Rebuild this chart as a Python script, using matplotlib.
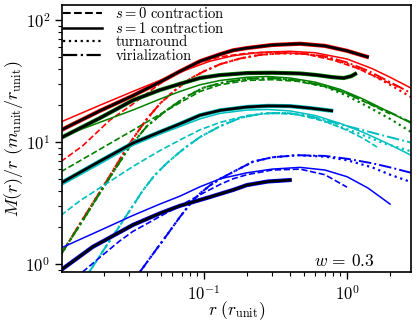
import numpy as np
import matplotlib
matplotlib.use('Agg')
import matplotlib.pyplot as plt
from matplotlib.lines import Line2D
import matplotlib.patheffects as pe

plt.rcParams['font.family'] = 'serif'
plt.rcParams['font.serif'] = ['cmr10']
plt.rcParams['mathtext.fontset'] = 'cm'
plt.rcParams['axes.formatter.use_mathtext'] = True

# ---------------- data (r in r_unit, M/r in m_unit/r_unit) ----------------
# red
red_black_r = [0.01, 0.0187, 0.0319, 0.0492, 0.068, 0.094, 0.13, 0.16, 0.2, 0.3, 0.47, 0.7, 1.0, 1.42]
red_black_M = [12.5, 18, 24, 31, 38, 46, 52.5, 56.5, 59, 62.5, 64, 61.5, 56, 49.5]
red_s1_r = [0.01, 0.0187, 0.0319, 0.0492, 0.075, 0.11, 0.16, 0.25, 0.4, 0.6, 1.0, 1.5, 2.0, 2.8]
red_s1_M = [14.6, 20, 26, 32, 39, 46, 51, 54.5, 55.5, 54, 48, 40, 34, 27.7]
red_s0_r = [0.01, 0.0142, 0.022, 0.0319, 0.0492, 0.068, 0.094, 0.13, 0.2, 0.3, 0.5, 0.8, 1.2, 1.8, 2.35]
red_s0_M = [6.9, 9.3, 15.1, 20.5, 30, 38, 45, 50, 53.5, 54.5, 53, 47, 40, 32, 28]
red_ta_r = [0.01, 0.015, 0.02, 0.03, 0.04, 0.05, 0.065, 0.08, 0.1, 0.13, 0.18, 0.25, 0.35, 0.5, 0.7, 1.0, 1.4, 2.0, 2.8]
red_ta_M = [1.19, 2.57, 4.4, 9.6, 15.5, 21, 27.5, 33, 38, 43.5, 48.5, 52, 53.5, 53, 50, 44, 37, 29.5, 23.4]
red_vir_M = [1.19, 2.57, 4.4, 9.6, 15.5, 21, 27.5, 33, 38, 43.5, 48.5, 52, 53.5, 53, 50.5, 45, 38.5, 31, 25.2]

# green
green_black_r = [0.01, 0.0187, 0.0319, 0.0492, 0.068, 0.094, 0.129, 0.2, 0.3, 0.47, 0.62, 0.8, 0.95, 1.07, 1.17]
green_black_M = [10.8, 15.7, 22.0, 26.7, 30, 33.5, 35.4, 36.8, 37, 36.5, 35.4, 34, 33.5, 34.7, 36.8]
green_s1_r = [0.01, 0.0187, 0.0319, 0.0492, 0.068, 0.094, 0.13, 0.2, 0.28, 0.4, 0.6, 0.9, 1.3, 1.9, 2.8]
green_s1_M = [11.0, 14.5, 18.3, 22.5, 26, 29.5, 32, 34, 34.5, 33.5, 31, 27, 22.5, 18, 14.3]
green_s0_r = [0.01, 0.0187, 0.0319, 0.0419, 0.068, 0.094, 0.13, 0.2, 0.3, 0.45, 0.7, 1.0, 1.5, 2.0]
green_s0_M = [5.7, 8.7, 12.5, 15.1, 21, 26, 29.5, 32, 32.5, 31.5, 28.5, 25, 20, 17]
green_ta_r = [0.01, 0.015, 0.02, 0.03, 0.04, 0.055, 0.075, 0.1, 0.14, 0.2, 0.3, 0.45, 0.7, 1.0, 1.4, 2.0, 2.8]
green_ta_M = [1.19, 2.5, 4.3, 9.0, 13.5, 18.3, 23.5, 28, 31, 33, 33.5, 32, 28.5, 24, 19.5, 15.5, 12.1]
green_vir_M = [1.19, 2.5, 4.3, 9.0, 13.5, 18.3, 23.5, 28, 31, 33, 33.5, 32, 29, 25, 21, 17.5, 14.5]

# cyan
cyan_black_r = [0.01, 0.0187, 0.0319, 0.0492, 0.068, 0.094, 0.13, 0.2, 0.28, 0.4, 0.55, 0.8]
cyan_black_M = [4.6, 6.95, 9.8, 12.1, 14.1, 16.6, 18.2, 19.4, 19.8, 19.7, 19.0, 18.0]
cyan_s1_r = [0.01, 0.0187, 0.0319, 0.0492, 0.068, 0.094, 0.13, 0.2, 0.28, 0.4, 0.6, 0.9, 1.3, 1.9, 2.8]
cyan_s1_M = [4.4, 6.6, 9.4, 11.6, 13.4, 15.5, 17.2, 18.3, 18.5, 18.0, 16.5, 14.2, 12, 9.8, 7.8]
cyan_s0_r = [0.01, 0.0136, 0.0187, 0.0319, 0.0492, 0.068, 0.094, 0.13, 0.2, 0.3, 0.45, 0.7, 1.0, 1.3, 1.62]
cyan_s0_M = [2.5, 3.3, 4.2, 6.3, 8.5, 10.4, 12.6, 14.5, 16.5, 17.3, 16.8, 14.8, 12.5, 10.7, 9.1]
cyan_ta_r = [0.0158, 0.02, 0.0259, 0.0319, 0.0374, 0.045, 0.055, 0.068, 0.076, 0.094, 0.13, 0.18, 0.26, 0.38, 0.55, 0.8, 1.2, 1.8, 2.8]
cyan_ta_M = [0.86, 1.31, 2.07, 3.0, 4.0, 5.3, 6.7, 8.3, 9.2, 11.0, 13.5, 15.8, 17.2, 17.3, 16.3, 14.0, 11.8, 9.8, 8.4]
cyan_vir_M = [0.86, 1.31, 2.07, 3.0, 4.0, 5.3, 6.7, 8.3, 9.2, 11.0, 13.5, 15.8, 17.2, 17.3, 16.3, 14.5, 12.8, 11.3, 9.9]

# blue
blue_black_r = [0.01, 0.0167, 0.0319, 0.0492, 0.068, 0.11, 0.16, 0.2, 0.28, 0.41]
blue_black_M = [0.89, 1.38, 2.09, 2.6, 3.0, 3.54, 4.05, 4.44, 4.75, 4.89]
blue_s1_r = [0.01, 0.0187, 0.0319, 0.0492, 0.068, 0.094, 0.13, 0.2, 0.3, 0.47, 0.7, 1.0, 1.4, 2.0]
blue_s1_M = [1.35, 1.88, 2.5, 3.1, 3.6, 4.3, 5.0, 5.6, 6.0, 6.2, 5.9, 5.2, 4.2, 3.1]
blue_s0_r = [0.0142, 0.0187, 0.0259, 0.0319, 0.0492, 0.068, 0.094, 0.13, 0.16, 0.2, 0.3, 0.47, 0.7, 1.0]
blue_s0_M = [0.86, 1.13, 1.55, 1.85, 2.45, 3.0, 3.7, 4.5, 5.0, 5.4, 5.9, 6.0, 5.4, 4.27]
blue_ta_r = [0.0357, 0.045, 0.055, 0.068, 0.08, 0.094, 0.11, 0.13, 0.17, 0.22, 0.3, 0.45, 0.7, 1.0, 1.5, 2.0, 2.8]
blue_ta_M = [0.86, 1.25, 1.72, 2.43, 3.1, 3.8, 4.4, 5.0, 5.9, 6.9, 7.5, 7.8, 7.6, 7.1, 6.2, 5.4, 4.7]
blue_vir_M = [0.86, 1.25, 1.72, 2.43, 3.1, 3.8, 4.4, 5.0, 5.9, 6.9, 7.5, 7.8, 7.7, 7.3, 6.7, 6.2, 5.6]

legend_labels = [r'$s=0$ contraction', r'$s=1$ contraction', 'turnaround', 'virialization']
w_label = r'$w\,=\,0.3$'

# ---------------- figure ----------------
W, H = 416, 325
fig = plt.figure(figsize=(W / 100, H / 100), dpi=100)
ax = fig.add_axes([62 / W, 1 - 272 / H, (411 - 62) / W, (272 - 5) / H])
ax.set_xscale('log')
ax.set_yscale('log')

groups = [
    ('#ff0000', red_black_r, red_black_M, red_s1_r, red_s1_M, red_s0_r, red_s0_M, red_ta_r, red_ta_M, red_vir_M),
    ('#008000', green_black_r, green_black_M, green_s1_r, green_s1_M, green_s0_r, green_s0_M, green_ta_r, green_ta_M, green_vir_M),
    ('#00bfbf', cyan_black_r, cyan_black_M, cyan_s1_r, cyan_s1_M, cyan_s0_r, cyan_s0_M, cyan_ta_r, cyan_ta_M, cyan_vir_M),
    ('#0000ff', blue_black_r, blue_black_M, blue_s1_r, blue_s1_M, blue_s0_r, blue_s0_M, blue_ta_r, blue_ta_M, blue_vir_M),
]

for col, br, bm, s1r, s1m, s0r, s0m, tar, tam, virm in groups:
    ax.plot(s0r, s0m, color=col, ls='--', lw=1.2)
    ax.plot(tar, tam, color=col, ls=':', lw=1.6)
    ax.plot(tar, virm, color=col, ls='-.', lw=1.4)
    ax.plot(s1r, s1m, color=col, ls='-', lw=1.1)

for col, br, bm, *_ in groups:
    ax.plot(br, bm, color='k', lw=2.0, solid_capstyle='butt', solid_joinstyle='round',
            path_effects=[pe.Stroke(linewidth=3.0, foreground=col), pe.Normal()])

ax.set_xlim(0.0102, 2.8)
ax.set_ylim(0.86, 133)

for s in ax.spines.values():
    s.set_linewidth(1.2)
ax.tick_params(which='major', length=5, width=1.0, labelsize=12)
ax.tick_params(which='minor', length=3, width=0.8)

ax.set_xlabel(r'$r\ (r_{\rm unit})$', fontsize=12.5, labelpad=-2.5)
ax.set_ylabel(r'$M(r)/r\ \left(m_{\rm unit}/r_{\rm unit}\right)$', fontsize=13, labelpad=0)

handles = [Line2D([], [], color='k', ls='--', lw=1.5),
           Line2D([], [], color='k', ls='-', lw=1.8),
           Line2D([], [], color='k', ls=':', lw=1.6),
           Line2D([], [], color='k', ls='-.', lw=1.6)]
ax.legend(handles, legend_labels, loc='upper left', frameon=False, fontsize=10.5,
          handlelength=2.7, handletextpad=0.9, labelspacing=0.0,
          borderaxespad=0.0, borderpad=0.05)

ax.text(0.895, 0.012, w_label, transform=ax.transAxes, ha='right', va='bottom', fontsize=12.5)

fig.savefig('out.png', dpi=100)
